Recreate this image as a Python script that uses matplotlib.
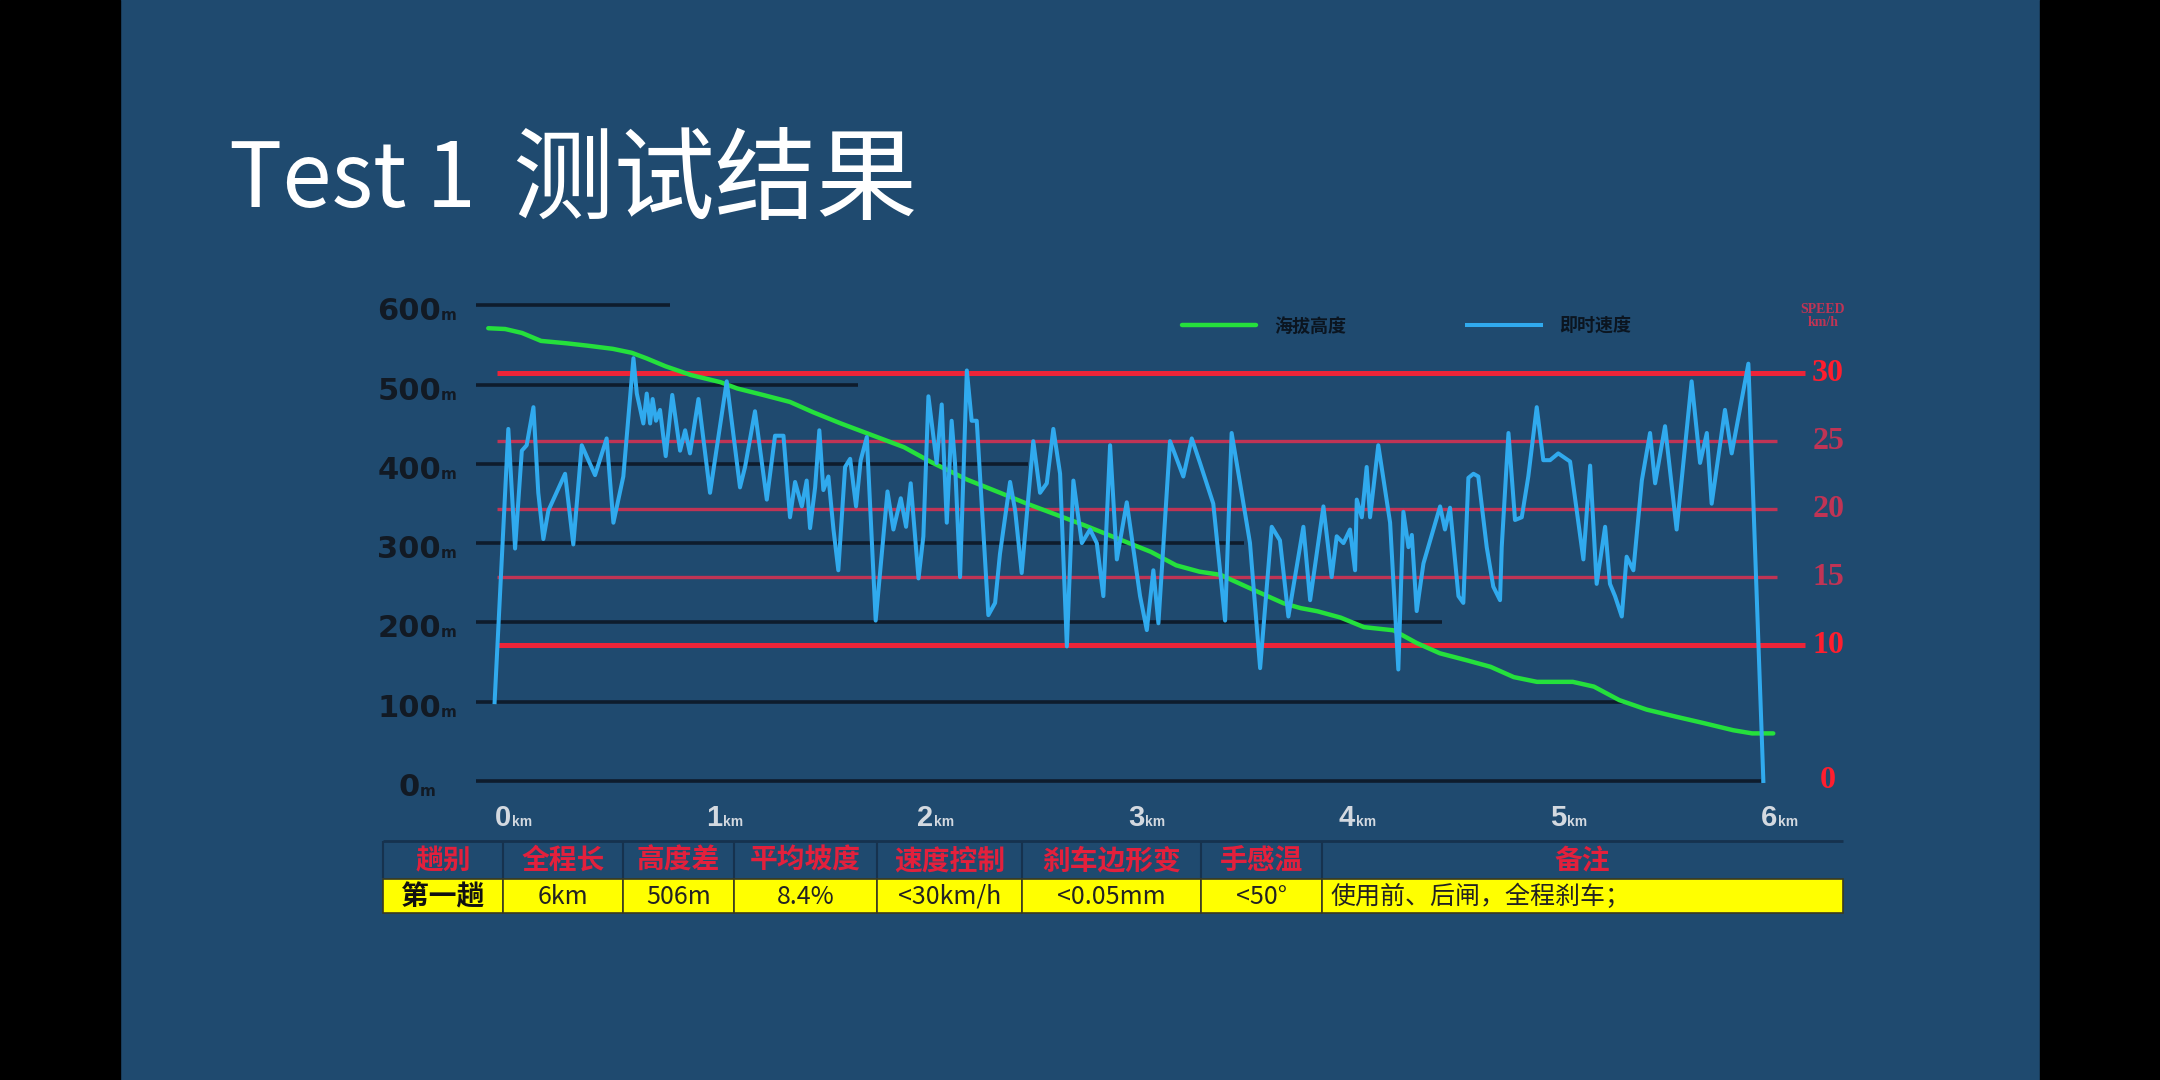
import matplotlib
matplotlib.use("Agg")
import matplotlib.pyplot as plt
from matplotlib.patches import Rectangle

plt.rcParams['font.family'] = ['Noto Sans CJK SC', 'DejaVu Sans']

# ---- data -------------------------------------------------------------------
# green curve: altitude (m) against distance (km)
elev_km = [-0.07, 0.01, 0.09, 0.18, 0.30, 0.40, 0.52, 0.61, 0.68, 0.77, 0.89,
           1.03, 1.11, 1.23, 1.36, 1.47, 1.60, 1.71, 1.79, 1.90, 2.03, 2.20,
           2.36, 2.48, 2.59, 2.75, 2.91, 3.07, 3.19, 3.30, 3.40, 3.54, 3.70,
           3.78, 3.86, 3.97, 4.08, 4.22, 4.33, 4.44, 4.57, 4.68, 4.79, 4.90,
           5.07, 5.17, 5.29, 5.42, 5.56, 5.69, 5.83, 5.92, 6.02]
elev_m = [571, 570, 565, 555, 552, 549, 545, 540, 533, 523, 512,
          503, 495, 487, 478, 465, 451, 440, 432, 421, 402, 380,
          363, 350, 339, 323, 306, 289, 272, 264, 260, 243, 224,
          218, 214, 206, 194, 190, 174, 161, 152, 144, 131, 125,
          125, 119, 102, 90, 81, 73, 64, 60, 60]

# blue curve: instant speed (km/h) against distance (km)
speed_km = [-0.04, 0.025, 0.057, 0.089, 0.112, 0.144, 0.167, 0.191, 0.215, 0.294,
            0.333, 0.373, 0.436, 0.491, 0.523, 0.570, 0.618, 0.634, 0.665, 0.681,
            0.697, 0.709, 0.725, 0.744, 0.771, 0.802, 0.839, 0.863, 0.886, 0.926,
            0.981, 1.060, 1.123, 1.147, 1.194, 1.250, 1.289, 1.329, 1.360, 1.384,
            1.416, 1.439, 1.455, 1.479, 1.499, 1.518, 1.542, 1.566, 1.589, 1.621,
            1.645, 1.673, 1.695, 1.724, 1.766, 1.822, 1.850, 1.885, 1.910, 1.932,
            1.969, 1.992, 2.016, 2.055, 2.079, 2.103, 2.126, 2.142, 2.166, 2.198,
            2.221, 2.245, 2.300, 2.332, 2.355, 2.403, 2.427, 2.458, 2.513, 2.545,
            2.577, 2.608, 2.640, 2.672, 2.703, 2.743, 2.782, 2.814, 2.845, 2.877,
            2.909, 2.956, 3.019, 3.051, 3.082, 3.106, 3.161, 3.224, 3.264, 3.303,
            3.366, 3.422, 3.453, 3.493, 3.540, 3.588, 3.643, 3.682, 3.722, 3.793,
            3.825, 3.888, 3.927, 3.951, 3.983, 4.014, 4.038, 4.046, 4.070, 4.093,
            4.109, 4.148, 4.204, 4.243, 4.267, 4.291, 4.307, 4.330, 4.362, 4.441,
            4.464, 4.488, 4.528, 4.551, 4.575, 4.599, 4.622, 4.662, 4.693, 4.725,
            4.733, 4.765, 4.796, 4.828, 4.859, 4.899, 4.930, 4.962, 5.001, 5.057,
            5.120, 5.152, 5.183, 5.223, 5.246, 5.270, 5.302, 5.325, 5.357, 5.397,
            5.436, 5.460, 5.507, 5.562, 5.633, 5.673, 5.705, 5.728, 5.791, 5.823,
            5.902, 5.973]
speed_kmh = [5.8, 25.9, 17.1, 24.3, 24.7, 27.5, 21.2, 17.8, 19.9, 22.6,
             17.4, 24.7, 22.5, 25.2, 19.0, 22.4, 31.1, 28.5, 26.3, 28.5,
             26.3, 28.1, 26.5, 27.3, 23.9, 28.4, 24.3, 25.8, 24.1, 28.1,
             21.2, 29.4, 21.6, 23.1, 27.2, 20.7, 25.4, 25.4, 19.4, 22.0,
             20.2, 22.1, 18.6, 21.6, 25.8, 21.4, 22.4, 18.5, 15.5, 23.1,
             23.7, 20.2, 23.6, 25.3, 11.8, 21.3, 18.5, 20.8, 18.7, 21.9,
             14.9, 18.0, 28.3, 23.4, 27.7, 19.0, 26.5, 23.4, 15.0, 30.2,
             26.5, 26.5, 12.2, 13.1, 16.7, 22.0, 19.9, 15.3, 25.0, 21.2,
             21.9, 25.9, 22.6, 9.9, 22.1, 17.5, 18.5, 17.5, 13.6, 24.7,
             16.3, 20.5, 13.6, 11.1, 15.5, 11.6, 25.0, 22.4, 25.2, 23.4,
             20.4, 11.8, 25.6, 21.9, 17.5, 8.3, 18.7, 17.7, 12.1, 18.7,
             13.3, 20.2, 15.0, 18.0, 17.5, 18.5, 15.5, 20.7, 19.4, 23.1,
             19.4, 24.7, 19.0, 8.2, 19.8, 17.2, 18.1, 12.5, 16.0, 20.2,
             18.5, 20.1, 13.6, 13.1, 22.3, 22.6, 22.4, 17.2, 14.3, 13.3,
             17.2, 25.6, 19.2, 19.4, 22.4, 27.5, 23.6, 23.6, 24.1, 23.5,
             16.3, 23.2, 14.5, 18.7, 14.5, 13.6, 12.1, 16.5, 15.5, 22.1,
             25.6, 21.9, 26.1, 18.5, 29.4, 23.4, 25.6, 20.4, 27.3, 24.1,
             30.7, 0.0]

elev_ticks = [0, 100, 200, 300, 400, 500, 600]
grid_end_km = [5.96, 5.31, 4.45, 3.51, 2.49, 1.68, 0.79]
km_ticks = [0, 1, 2, 3, 4, 5, 6]
speed_ticks = [0, 10, 15, 20, 25, 30]
speed_main = [30, 10]
speed_minor = [25, 20, 15]

title_latin = "Test 1"
title_cjk = "测试结果"
legend_labels = ["海拔高度", "即时速度"]
table_header = ["趟别", "全程长", "高度差", "平均坡度", "速度控制", "刹车边形变", "手感温", "备注"]
table_row = ["第一趟", "6km", "506m", "8.4%", "<30km/h", "<0.05mm", "<50°",
             "使用前、后闸，全程刹车；"]
table_edges = [383, 503, 623, 734, 877, 1022, 1201, 1322, 1843]

# ---- colours ----------------------------------------------------------------
BG = "#1f4a6f"
GREEN = "#25e03c"
BLUE = "#30aaee"
RED = "#ec2438"
RED_DIM = "#c03455"
GRID = "#0e1c2c"

ELEV_TO_SPEED = 35 / 600  # 600 m on the left sits level with 35 km/h on the right

fig = plt.figure(figsize=(21.6, 10.8), dpi=100, facecolor=BG)

# page layer in pixel coordinates: side bars, title, table
page = fig.add_axes([0, 0, 1, 1], zorder=-1)
page.set_xlim(0, 2160)
page.set_ylim(1080, 0)
page.axis('off')
page.add_patch(Rectangle((0, 0), 120, 1080, color="black"))
page.add_patch(Rectangle((2040, 0), 120, 1080, color="black"))
page.text(229, 182, title_latin, color="white", fontsize=64, ha="left", va="center")
page.text(512, 182, title_cjk, color="white", fontsize=73, ha="left", va="center")

# ---- chart ------------------------------------------------------------------
ax = fig.add_axes([460 / 2160, 1 - 800 / 1080, 1400 / 2160, 510 / 1080])
ax.set_facecolor("none")
ax.set_xlim(-0.204, 6.431)
ax.set_ylim(-24.0, 619.2)
ax.axis('off')

ax2 = ax.twinx()
ax2.set_ylim(-24.0 * ELEV_TO_SPEED, 619.2 * ELEV_TO_SPEED)
ax2.axis('off')

# stepped black grid
ax.hlines(elev_ticks, -0.13, grid_end_km, color=GRID, lw=2.6, zorder=1)

# red speed limits, drawn in ax so the green line stays on top
ax.hlines(speed_main, -0.03, 6.17, color=RED, lw=3.6, zorder=2,
          transform=ax2.transData)
ax.hlines(speed_minor, -0.03, 6.04, color=RED_DIM, lw=2.4, zorder=2,
          transform=ax2.transData)

green, = ax.plot(elev_km, elev_m, color=GREEN, lw=3.2, zorder=3,
                 solid_capstyle="round")
blue, = ax2.plot(speed_km, speed_kmh, color=BLUE, lw=2.9, zorder=4,
                 solid_joinstyle="round")

# left labels: big number + small "m"
for e in elev_ticks:
    n = len(str(e))
    split = -0.408 + (0.101 * n - 0.076) / 2
    ax.text(split, e - 19, str(e), ha="right", va="baseline", fontsize=22,
            fontweight="bold", family="DejaVu Sans", color="#121a24")
    ax.text(split, e - 19, "m", ha="left", va="baseline", fontsize=11,
            fontweight="bold", family="DejaVu Sans", color="#121a24")

# bottom labels: big number + small "km"
for k in km_ticks:
    ax.text(k, -57, str(k), ha="center", va="baseline", fontsize=21,
            fontweight="bold", family="Liberation Sans", color="#d3d9e0")
    ax.text(k + 0.042, -57, "km", ha="left", va="baseline", fontsize=10,
            fontweight="bold", family="Liberation Sans", color="#d3d9e0")

# right labels
for s in speed_ticks:
    col = RED_DIM if s in speed_minor else "#ff1e2e"
    ax2.text(6.28, s, str(s), ha="center", va="center", fontsize=23,
             fontweight="bold", family="Liberation Serif", color=col)
ax2.text(6.255, 34.2, "SPEED\nkm/h", ha="center", va="center", fontsize=10,
         fontweight="bold", family="Liberation Serif", color=RED_DIM,
         linespacing=1.0)

leg = ax2.legend([green, blue], legend_labels, loc="center left",
                 bbox_to_anchor=(0.5157, 0.9294), ncol=2, frameon=False,
                 borderpad=0, borderaxespad=0, handlelength=4.1,
                 handletextpad=1.0, columnspacing=6.7,
                 prop={"family": "Noto Sans CJK SC", "weight": "bold", "size": 13},
                 labelcolor="#0b1520")

# ---- table ------------------------------------------------------------------
page.hlines(841, table_edges[0], table_edges[-1], color="#16324e", lw=2)
for i in range(len(table_header)):
    x0, x1 = table_edges[i], table_edges[i + 1]
    page.vlines(x0, 841, 878, color="#16324e", lw=1.5)
    page.text((x0 + x1) / 2, 861, table_header[i], ha="center", va="center",
              fontsize=20, fontweight="bold", color="#e3203c")
    page.add_patch(Rectangle((x0, 879), x1 - x0, 34, facecolor="#ffff00",
                             edgecolor="#3a3a20", lw=1.2))
    if i == 0:
        page.text((x0 + x1) / 2, 897, table_row[i], ha="center", va="center",
                  fontsize=20, fontweight="bold", color="#111111")
    elif i == len(table_header) - 1:
        page.text(x0 + 8, 897, table_row[i], ha="left", va="center",
                  fontsize=18, color="#222222")
    else:
        page.text((x0 + x1) / 2, 897, table_row[i], ha="center", va="center",
                  fontsize=18, color="#222222")

fig.savefig("out.png", dpi=100, facecolor=BG)
